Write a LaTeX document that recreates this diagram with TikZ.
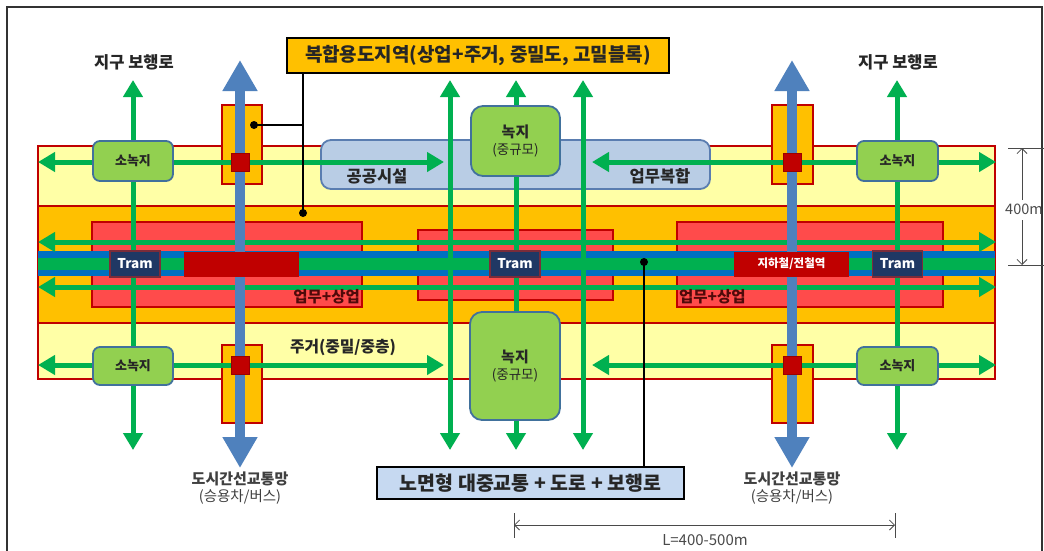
\documentclass[tikz,border=0pt]{standalone}
\usepackage{fontspec}
\setmainfont{Noto Sans CJK KR}
\usetikzlibrary{arrows.meta}
\definecolor{dred}{HTML}{C00000}
\definecolor{lyel}{HTML}{FFFFA6}
\definecolor{orng}{HTML}{FFC000}
\definecolor{rfill}{HTML}{FF4B4B}
\definecolor{grn}{HTML}{00B050}
\definecolor{tblue}{HTML}{0070C0}
\definecolor{barrow}{HTML}{4F81BD}
\definecolor{navy}{HTML}{203864}
\definecolor{tbord}{HTML}{7B2C3A}
\definecolor{lgreen}{HTML}{92D050}
\definecolor{bgray}{HTML}{41719C}
\definecolor{lblue}{HTML}{B9CDE5}
\definecolor{bbord}{HTML}{5A7DB0}
\definecolor{lblue2}{HTML}{C6D9F1}
\definecolor{dimc}{HTML}{4A4A4A}
\tikzset{
  band/.style={draw=dred, line width=1.4pt},
  rbox/.style={draw=dred, line width=1.4pt, fill=rfill},
  garrow/.style={draw=grn, line width=5pt, {Triangle[width=19pt,length=17pt]}-{Triangle[width=19pt,length=17pt]}},
  barr/.style={draw=barrow, line width=10pt, {Triangle[width=33pt,length=31pt]}-{Triangle[width=33pt,length=31pt]}},
  obox/.style={draw=dred, line width=1.4pt, fill=orng},
  rsq/.style={draw=dred!80!black, line width=0.6pt, fill=dred, minimum width=18pt, minimum height=18pt, inner sep=0pt},
  trambox/.style={draw=tbord, line width=1.4pt, fill=navy, text=white, font=\bfseries\fontsize{13.5}{15}\selectfont, minimum width=50pt, minimum height=26pt, inner sep=0pt},
  dblock/.style={fill=dred, text=white, font=\bfseries\fontsize{11.5}{13}\selectfont, minimum width=115pt, minimum height=25pt, inner sep=0pt},
  gbox/.style={draw=bgray, fill=lgreen, line width=1.8pt, rounded corners=7pt, inner sep=0pt, text=black!85, font=\bfseries\fontsize{13}{15}\selectfont},
  nbox/.style={draw=bgray, fill=lgreen, line width=1.8pt, rounded corners=12pt, inner sep=0pt, text=black!85, align=center, font=\fontsize{15}{16.5}\selectfont},
  conn/.style={draw=black, line width=2pt},
  dim/.style={draw=dimc, line width=0.8pt},
  dimarr/.style={draw=dimc, line width=0.8pt, -{Straight Barb[length=5pt,width=10pt]}},
  lbl/.style={inner sep=0pt, text=black!85, font=\bfseries\fontsize{16.5}{18}\selectfont},
}
\begin{document}
\begin{tikzpicture}[x=1pt,y=-1pt]
\useasboundingbox (0,0) rectangle (1044,550);
\fill[white] (0,0) rectangle (1044,550);
% frame
\draw[line width=1.6pt, draw=black!80] (7,560) -- (7,7) -- (1042,7) -- (1042,560);

% bands
\filldraw[band, fill=lyel] (38,146) rectangle (995,206);
\filldraw[band, fill=orng] (38,206) rectangle (995,323);
\filldraw[band, fill=lyel] (38,323) rectangle (995,379);

% red zones
\filldraw[rbox] (92,222) rectangle (362,307);
\filldraw[rbox] (418,230) rectangle (613,300);
\filldraw[rbox] (677,222) rectangle (943,307);

% tram band
\fill[tblue] (38,251) rectangle (995,276);
\fill[grn] (38,257.5) rectangle (995,269.5);

% public facilities box
\node[draw=bbord, fill=lblue, line width=1.8pt, rounded corners=10pt, minimum width=389pt, minimum height=49pt, inner sep=0pt] (pub) at (515.5,164.5) {};

% orange crossings
\filldraw[obox] (222,105) rectangle (262,184);
\filldraw[obox] (222,345) rectangle (262,423);
\filldraw[obox] (772,105) rectangle (813,184);
\filldraw[obox] (772,345) rectangle (813,423);

% horizontal green arrows
\coordinate (hL1) at (38,162);  \coordinate (hR1) at (444,162);
\coordinate (hL2) at (592,162); \coordinate (hR2) at (996,162);
\coordinate (hL3) at (38,242);  \coordinate (hR3) at (996,242);
\coordinate (hL4) at (38,287);  \coordinate (hR4) at (996,287);
\coordinate (hL5) at (38,365);  \coordinate (hR5) at (444,365);
\coordinate (hL6) at (592,365); \coordinate (hR6) at (996,365);
\draw[garrow] (hL1) -- (hR1);
\draw[garrow] (hL2) -- (hR2);
\draw[garrow] (hL3) -- (hR3);
\draw[garrow] (hL4) -- (hR4);
\draw[garrow] (hL5) -- (hR5);
\draw[garrow] (hL6) -- (hR6);

% vertical green arrows
\foreach \x/\n in {133/a,450/b,516/c,583/d,897/e}{
  \coordinate (vt\n) at (\x,80);
  \coordinate (vb\n) at (\x,450);
  \draw[garrow] (vt\n) -- (vb\n);
}

% blue arterial arrows
\coordinate (bt1) at (240,60); \coordinate (bb1) at (240,468);
\coordinate (bt2) at (792,60); \coordinate (bb2) at (792,468);
\draw[barr] (bt1) -- (bb1);
\draw[barr] (bt2) -- (bb2);

% stations and trams
\node[dblock] (st1) at (241.5,264) {};
\node[dblock] (st2) at (791.5,264) {지하철/전철역};
\node[trambox] (tr1) at (135,264) {Tram};
\node[trambox] (tr2) at (515,264) {Tram};
\node[trambox] (tr3) at (897.5,264) {Tram};

% red squares
\node[rsq] (q1) at (240,162) {};
\node[rsq] (q2) at (240,365) {};
\node[rsq] (q3) at (792,162) {};
\node[rsq] (q4) at (792,365) {};

% small green spaces
\node[gbox, minimum width=80pt, minimum height=40pt] (s1) at (133,161) {소녹지};
\node[gbox, minimum width=80pt, minimum height=38pt] (s2) at (133,366) {소녹지};
\node[gbox, minimum width=81pt, minimum height=40pt] (s3) at (897.5,161) {소녹지};
\node[gbox, minimum width=81pt, minimum height=38pt] (s4) at (897.5,366) {소녹지};

% medium green spaces
\node[nbox, minimum width=89pt, minimum height=70pt] (n1) at (515.5,141) {{\bfseries 녹지}\\{\fontsize{13.5}{15}\selectfont (중규모)}};
\node[nbox, minimum width=90pt, minimum height=108pt] (n2) at (515,366) {{\bfseries 녹지}\\{\fontsize{13.5}{15}\selectfont (중규모)}};

% labels inside
\node[lbl] (gg) at (377,176) {공공시설};
\node[lbl] (ub) at (660,176) {업무복합};
\node[lbl, anchor=east, text={rgb,255:red,80;green,10;blue,10}, font=\bfseries\fontsize{15.5}{17}\selectfont] (ws1) at (360,297) {업무+상업};
\node[lbl, anchor=west, text={rgb,255:red,80;green,10;blue,10}, font=\bfseries\fontsize{15.5}{17}\selectfont] (ws2) at (679,297) {업무+상업};
\node[lbl, font=\bfseries\fontsize{15.8}{17}\selectfont] (jg) at (343,347) {주거(중밀/중층)};

% titles
\node[draw=black, fill=orng, line width=1.5pt, minimum width=382pt, minimum height=35pt, inner sep=0pt, font=\bfseries\fontsize{19}{21}\selectfont, text=black!85] (title) at (478,55.5) {복합용도지역(상업+주거, 중밀도, 고밀블록)};
\node[draw=black, fill=lblue2, line width=1.5pt, minimum width=307pt, minimum height=32pt, inner sep=0pt, font=\bfseries\fontsize{19.5}{21}\selectfont, text=black!85] (bot) at (530.5,483) {노면형 대중교통 + 도로 + 보행로};

% connectors
\coordinate (d1) at (303,213);
\coordinate (j1) at (303,125);
\coordinate (d2) at (254,125);
\coordinate (d3) at (644,262);
\draw[conn] (title.south -| d1) -- (d1);
\draw[conn] (j1) -- (d2);
\draw[conn] (bot.north -| d3) -- (d3);
\fill (d1) circle (4pt);
\fill (d2) circle (4pt);
\fill (d3) circle (4pt);

% outside labels
\node[lbl] (pw1) at (134,62) {지구 보행로};
\node[lbl] (pw2) at (898,62) {지구 보행로};
\node[inner sep=0pt, align=center, text=black!75, font=\fontsize{14.5}{16.5}\selectfont] (ar1) at (240,488) {{\bfseries\fontsize{15}{17}\selectfont 도시간선교통망}\\{\fontsize{14.5}{16}\selectfont (승용차/버스)}};
\node[inner sep=0pt, align=center, text=black!75, font=\fontsize{14.5}{16.5}\selectfont] (ar2) at (792,488) {{\bfseries\fontsize{15}{17}\selectfont 도시간선교통망}\\{\fontsize{14.5}{16}\selectfont (승용차/버스)}};

% dimension 400m
\coordinate (t1a) at (1008,148); \coordinate (t1b) at (1046,148);
\coordinate (t2a) at (1008,265); \coordinate (t2b) at (1046,265);
\coordinate (m1) at (1022,200); \coordinate (m2) at (1022,220);
\draw[dim] (t1a) -- (t1b);
\draw[dim] (t2a) -- (t2b);
\draw[dimarr] (m1) -- (m1 |- t1a);
\draw[dimarr] (m2) -- (m2 |- t2a);
\node[inner sep=0pt, text=dimc, font=\fontsize{14.5}{16}\selectfont] (l400) at (1024,209) {400m};

% dimension L
\coordinate (u1a) at (514,513); \coordinate (u1b) at (514,538);
\coordinate (u2a) at (895,513); \coordinate (u2b) at (895,538);
\coordinate (um) at (704,525);
\draw[dim] (u1a) -- (u1b);
\draw[dim] (u2a) -- (u2b);
\draw[dimarr] (um) -- (um -| u1a);
\draw[dimarr] (um) -- (um -| u2a);
\node[inner sep=0pt, text=dimc, font=\fontsize{15}{17}\selectfont] (lL) at (705,540) {L=400-500m};
\end{tikzpicture}
\end{document}
